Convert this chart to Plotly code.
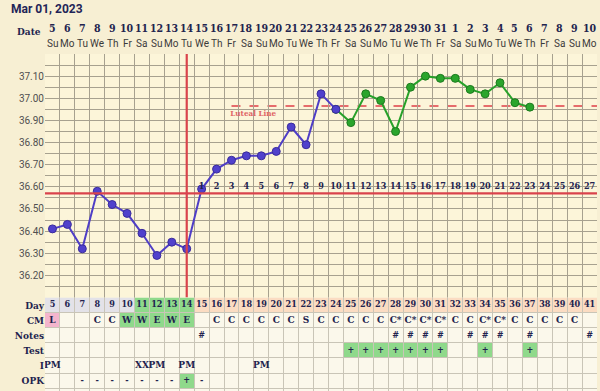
import numpy as np
import plotly.graph_objects as go

TITLE = "Mar 01, 2023"
CYCLE_DAYS = list(range(5, 42))
DATE_NUMS = ["5", "6", "7", "8", "9", "10", "11", "12", "13", "14", "15", "16", "17", "18",
             "19", "20", "21", "22", "23", "24", "25", "26", "27", "28", "29", "30", "31",
             "1", "2", "3", "4", "5", "6", "7", "8", "9", "10"]
WEEKDAYS = ["Su", "Mo", "Tu", "We", "Th", "Fr", "Sa"] * 5 + ["Su", "Mo"]

TEMP_DAYS_PRE = list(range(5, 25))
TEMPS_PRE = [36.41, 36.43, 36.32, 36.58, 36.52, 36.48, 36.39, 36.29, 36.35, 36.32,
             36.59, 36.68, 36.72, 36.74, 36.74, 36.76, 36.87, 36.79, 37.02, 36.95]
TEMP_DAYS_POST = list(range(24, 38))
TEMPS_POST = [36.95, 36.89, 37.02, 36.99, 36.85, 37.05, 37.10, 37.09, 37.09, 37.04,
              37.02, 37.07, 36.98, 36.96]

COVER_LINE = 36.57
OVULATION_DAY = 14
LUTEAL_LINE = 36.965
LUTEAL_START = 17
DPO_DAYS = list(range(15, 42))
DPO_LABELS = [str(i) for i in range(1, 28)]

TEMP_TICKS = [round(36.15 + 0.05 * i, 2) for i in range(21)]
TEMP_TICK_LABELS = ["" if i % 2 == 0 else f"{36.15 + 0.05 * i:.2f}" for i in range(21)]

ROW_LABELS = ["Day", "CM", "Notes", "Test", "I", "OPK"]
DAY_ROW = [str(d) for d in CYCLE_DAYS]
CM_ROW = ["L", "", "", "C", "C", "W", "W", "E", "W", "E", "", "C", "C", "C", "C", "C", "C",
          "S", "C", "C", "C", "C", "C", "C*", "C*", "C*", "C*", "C", "C", "C*", "C*", "C",
          "C", "C", "C", "C", ""]
NOTES_DAYS = [15, 28, 29, 30, 31, 33, 34, 35, 37, 41]
TEST_DAYS = [25, 26, 27, 28, 29, 30, 31, 34, 37]
I_DAYS = [5, 11, 12, 14, 19]
I_TEXT = ["PM", "XX", "PM", "PM", "PM"]
OPK_DAYS = [7, 8, 9, 10, 11, 12, 13, 14, 15]
OPK_TEXT = ["-", "-", "-", "-", "-", "-", "-", "+", "-"]

DAY_GRAY = list(range(5, 11))
DAY_GREEN = list(range(11, 15))
DAY_PEACH = list(range(15, 42))
CM_PINK = [5]
CM_GREEN = list(range(10, 15))
OPK_GREEN = [14]

NAVY = "#22234e"
SLAB = "DejaVu Serif Condensed, DejaVu Serif, serif"
SANS = "Roboto, Arial, sans-serif"
GREEN_CELL = "#8fd98b"

W, H = 600, 391
ML, MR, MT, MB = 45, 3, 54, 0
PH = H - MT - MB
PW = W - ML - MR
TEMP_PX = 243.5
TABLE_FRAC = (PH - TEMP_PX) / PH
ROW_PX = 15.12
TABLE_RANGE = (PH - TEMP_PX) / ROW_PX

fig = go.Figure()

# temperature lines
fig.add_trace(go.Scatter(x=TEMP_DAYS_POST, y=TEMPS_POST, mode="lines+markers",
                         line=dict(color="#28a12a", width=2),
                         marker=dict(size=8, color="#2aa52c", line=dict(color="#1c7a1e", width=1)),
                         xaxis="x", yaxis="y", hoverinfo="skip", showlegend=False))
fig.add_trace(go.Scatter(x=TEMP_DAYS_PRE, y=TEMPS_PRE, mode="lines+markers",
                         line=dict(color="#4f3ec6", width=2),
                         marker=dict(size=8, color="#5041cc", line=dict(color="#3a2c9c", width=1)),
                         xaxis="x", yaxis="y", hoverinfo="skip", showlegend=False))
# DPO numbers
fig.add_trace(go.Scatter(x=DPO_DAYS, y=[COVER_LINE + 0.032] * len(DPO_DAYS), mode="text",
                         text=[f"<b>{t}</b>" for t in DPO_LABELS],
                         textfont=dict(family=SLAB, size=9, color=NAVY),
                         xaxis="x", yaxis="y", hoverinfo="skip", showlegend=False))
# luteal label
fig.add_trace(go.Scatter(x=[LUTEAL_START - 0.08], y=[LUTEAL_LINE - 0.035], mode="text",
                         text=["<b>Luteal Line</b>"], textposition="middle right",
                         textfont=dict(family=SLAB, size=8, color="#e06464"),
                         xaxis="x", yaxis="y", hoverinfo="skip", showlegend=False))

# table text
def table_text(days, texts, row, size=10):
    fig.add_trace(go.Scatter(x=days, y=[row + 0.5] * len(days), mode="text",
                             text=[f"<b>{t}</b>" for t in texts],
                             textfont=dict(family=SLAB, size=size, color=NAVY),
                             xaxis="x2", yaxis="y2", hoverinfo="skip", showlegend=False))

table_text(CYCLE_DAYS, DAY_ROW, 0, 9)
table_text(CYCLE_DAYS, CM_ROW, 1, 10)
table_text(NOTES_DAYS, ["#"] * len(NOTES_DAYS), 2, 9)
table_text(TEST_DAYS, ["+"] * len(TEST_DAYS), 3, 9)
table_text(I_DAYS, I_TEXT, 4, 10)
table_text(OPK_DAYS, OPK_TEXT, 5, 9)

shapes = []
# table background
shapes.append(dict(type="rect", xref="x2", yref="y2", x0=4.5, x1=41.5, y0=0, y1=TABLE_RANGE,
                   fillcolor="#fbf8eb", line=dict(width=0), layer="below"))

def cells(days, row, color):
    for d in days:
        shapes.append(dict(type="rect", xref="x2", yref="y2", x0=d - 0.5, x1=d + 0.5,
                           y0=row, y1=row + 1, fillcolor=color, line=dict(width=0), layer="below"))

cells(DAY_GRAY, 0, "#e3e2e8")
cells(DAY_GREEN, 0, GREEN_CELL)
cells(DAY_PEACH, 0, "#fbdcc2")
cells(CM_PINK, 1, "#f4b5cd")
cells(CM_GREEN, 1, GREEN_CELL)
cells(TEST_DAYS, 3, GREEN_CELL)
cells(OPK_GREEN, 5, GREEN_CELL)

# cover line, ovulation line, luteal line
shapes.append(dict(type="line", xref="x", yref="y", x0=4.5, x1=41.5, y0=COVER_LINE, y1=COVER_LINE,
                   line=dict(color="#d9434c", width=2.2), layer="above"))
shapes.append(dict(type="line", xref="x", yref="y", x0=OVULATION_DAY, x1=OVULATION_DAY,
                   y0=36.10, y1=37.20, line=dict(color="#d9434c", width=2.2), layer="above"))
shapes.append(dict(type="line", xref="x", yref="y", x0=LUTEAL_START, x1=41.5,
                   y0=LUTEAL_LINE, y1=LUTEAL_LINE,
                   line=dict(color="#e66c6c", width=2, dash="dash"), layer="below"))

annotations = []
annotations.append(dict(text="<b>" + TITLE + "</b>", xref="paper", yref="paper",
                        x=-(ML - 9) / PW, y=1 + (MT - 8.5) / PH, xanchor="left",
                        yanchor="middle", showarrow=False,
                        font=dict(family=SANS, size=12, color="#1f2557")))
annotations.append(dict(text="<b>Date</b>", xref="paper", yref="paper",
                        x=-2 / PW, y=1 + (MT - 32) / PH, xanchor="right",
                        yanchor="middle", showarrow=False,
                        font=dict(family=SLAB, size=10, color=NAVY)))
for d, n, wd in zip(CYCLE_DAYS, DATE_NUMS, WEEKDAYS):
    annotations.append(dict(text=f"<b>{n}</b>", xref="x", yref="paper", x=d,
                            y=1 + (MT - 28) / PH, yanchor="middle", showarrow=False,
                            font=dict(family=SLAB, size=10.5, color=NAVY)))
    annotations.append(dict(text=wd, xref="x", yref="paper", x=d,
                            y=1 + (MT - 43) / PH, yanchor="middle", showarrow=False,
                            font=dict(family=SANS, size=10, color="#3a3a3a")))

fig.update_layout(
    width=W, height=H,
    margin=dict(l=ML, r=MR, t=MT, b=MB, pad=0),
    paper_bgcolor="#f7efd3",
    plot_bgcolor="#fcf5d9",
    showlegend=False,
    shapes=shapes,
    annotations=annotations,
    xaxis=dict(range=[4.5, 41.5], anchor="y", tickvals=[x + 0.5 for x in range(4, 42)],
               showticklabels=False, ticks="", showgrid=True, gridcolor="#a7a18f",
               gridwidth=1, zeroline=False, showline=False, fixedrange=True),
    xaxis2=dict(matches="x", range=[4.5, 41.5], anchor="y2",
                tickvals=[x + 0.5 for x in range(4, 42)],
                showticklabels=False, ticks="", showgrid=True, gridcolor="#c9c5b7",
                gridwidth=1, zeroline=False, showline=False),
    yaxis=dict(domain=[TABLE_FRAC, 1], range=[36.10, 37.20], anchor="x",
               tickvals=TEMP_TICKS, ticktext=TEMP_TICK_LABELS, ticks="",
               tickfont=dict(family=SANS, size=10, color="#505050"),
               showgrid=True, gridcolor="#a7a18f", gridwidth=1, zeroline=False, showline=False),
    yaxis2=dict(domain=[0, TABLE_FRAC], range=[TABLE_RANGE, 0], anchor="x2",
                tickvals=[r + 0.5 for r in range(6)],
                ticktext=[f"<b>{t}</b>" for t in ROW_LABELS], ticks="",
                tickfont=dict(family=SLAB, size=10, color=NAVY),
                showgrid=False, zeroline=False, showline=False,
                minor=dict(tickvals=list(range(0, 7)), showgrid=True, gridcolor="#c9c5b7",
                           gridwidth=1, ticks="")),
)

fig.write_html("out.html")
